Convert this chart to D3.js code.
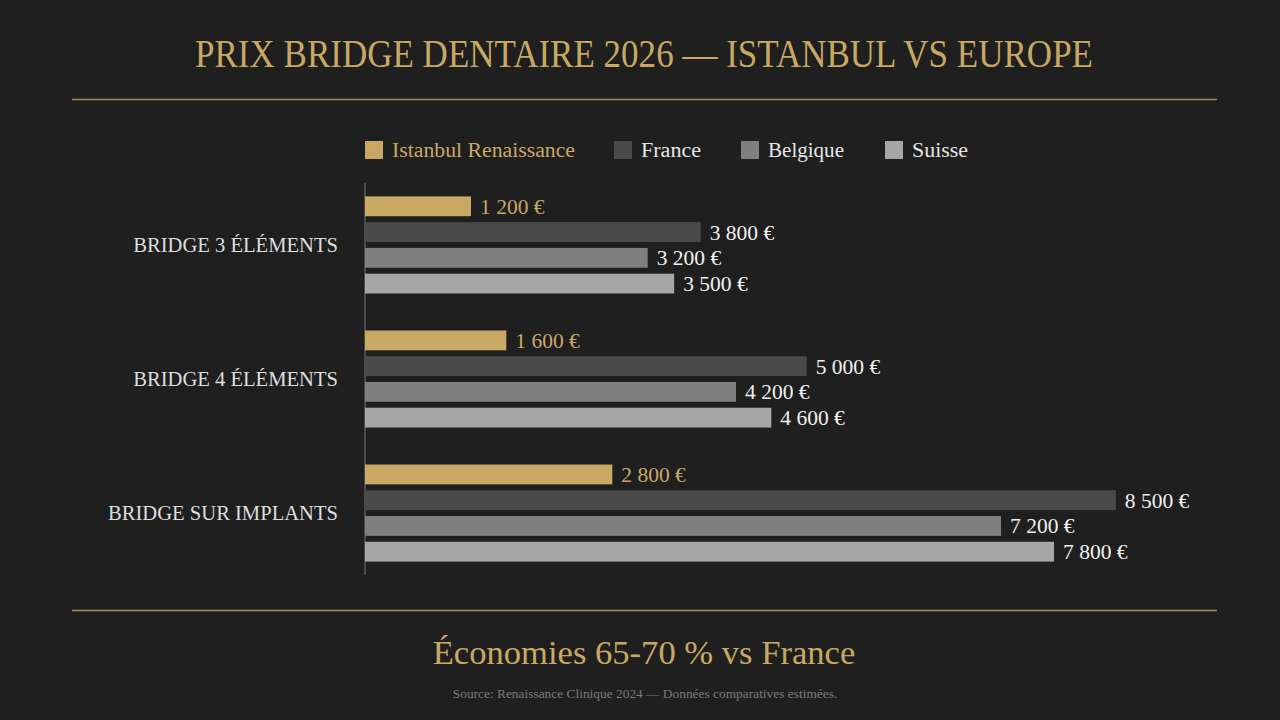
<!DOCTYPE html>
<html><head><meta charset="utf-8">
<script src="https://cdn.jsdelivr.net/npm/d3@7"></script>
<style>
html,body{margin:0;padding:0;background:#1f1f1f;}
svg{display:block;}
</style></head>
<body>
<svg id="c" width="1280" height="720"></svg>
<script>
const categories = ["BRIDGE 3 ÉLÉMENTS", "BRIDGE 4 ÉLÉMENTS", "BRIDGE SUR IMPLANTS"];
const series = ["Istanbul Renaissance", "France", "Belgique", "Suisse"];
const istanbul = [1200, 1600, 2800];
const france = [3800, 5000, 8500];
const belgique = [3200, 4200, 7200];
const suisse = [3500, 4600, 7800];
const seriesValues = [istanbul, france, belgique, suisse];
const colors = ["#c8a964", "#4a4a4a", "#7f7f7f", "#a6a6a6"];
const labelColors = ["#c8a964", "#f0f0f0", "#f0f0f0", "#f0f0f0"];

const FONT = "'Liberation Serif', 'DejaVu Serif', serif";
const svg = d3.select("#c");

svg.append("rect").attr("width", 1280).attr("height", 720).attr("fill", "#1f1f1f");

// title
svg.append("text").attr("x", 644).attr("y", 67).attr("text-anchor", "middle")
  .attr("font-family", FONT).attr("font-size", 40).attr("fill", "#c8a964")
  .attr("textLength", 898).attr("lengthAdjust", "spacingAndGlyphs")
  .text("PRIX BRIDGE DENTAIRE 2026 — ISTANBUL VS EUROPE");

svg.append("line").attr("x1", 72).attr("x2", 1217).attr("y1", 99.5).attr("y2", 99.5)
  .attr("stroke", "#a88a55").attr("stroke-width", 1.3);
svg.append("line").attr("x1", 72).attr("x2", 1217).attr("y1", 610.5).attr("y2", 610.5)
  .attr("stroke", "#a88a55").attr("stroke-width", 1.3);

// legend
const legendX = [365, 614, 741, 885];
const legendW = [183, 60, 76, 56];
const lg = svg.append("g");
series.forEach((s, i) => {
  lg.append("rect").attr("x", legendX[i]).attr("y", 141).attr("width", 18).attr("height", 18)
    .attr("fill", colors[i]);
  lg.append("text").attr("x", legendX[i] + 27).attr("y", 157)
    .attr("font-family", FONT).attr("font-size", 20).attr("fill", i === 0 ? "#c8a964" : "#e6e6e6")
    .attr("textLength", legendW[i]).attr("lengthAdjust", "spacingAndGlyphs")
    .text(s);
});

// scales
const x = d3.scaleLinear().domain([0, 9000]).range([365, 1160]);
const y = d3.scaleBand().domain(categories).range([183, 575]).paddingInner(0.276).paddingOuter(0.1);
const yi = d3.scaleBand().domain(series).range([0, y.bandwidth()]).paddingInner(0.23);

// axis line
svg.append("line").attr("x1", 365).attr("x2", 365).attr("y1", 183).attr("y2", 575)
  .attr("stroke", "#5a5a5a").attr("stroke-width", 1.5);

// category labels
categories.forEach((c) => {
  svg.append("text").attr("x", 338).attr("y", y(c) + y.bandwidth() / 2 + 7)
    .attr("text-anchor", "end").attr("font-family", FONT).attr("font-size", 20.6)
    .attr("fill", "#dedede")
    .text(c);
});

const fmt = v => d3.format(",")(v).replace(/,/g, " ") + " €";

categories.forEach((c, ci) => {
  const g = svg.append("g").attr("transform", `translate(0,${y(c)})`);
  series.forEach((s, si) => {
    const v = seriesValues[si][ci];
    g.append("rect").attr("x", x(0)).attr("y", yi(s)).attr("width", x(v) - x(0))
      .attr("height", yi.bandwidth()).attr("fill", colors[si]);
    g.append("text").attr("x", x(v) + 9).attr("y", yi(s) + yi.bandwidth() / 2 + 7.5)
      .attr("font-family", FONT).attr("font-size", 21.5).attr("fill", labelColors[si])
      .text(fmt(v));
  });
});

// bottom
svg.append("text").attr("x", 644).attr("y", 664).attr("text-anchor", "middle")
  .attr("font-family", FONT).attr("font-size", 34.6).attr("fill", "#c8a964")
  .text("Économies 65-70 % vs France");
svg.append("text").attr("x", 645).attr("y", 698).attr("text-anchor", "middle")
  .attr("font-family", FONT).attr("font-size", 13.4).attr("fill", "#7a7a7a")
  .text("Source: Renaissance Clinique 2024 — Données comparatives estimées.");
</script>
</body></html>
